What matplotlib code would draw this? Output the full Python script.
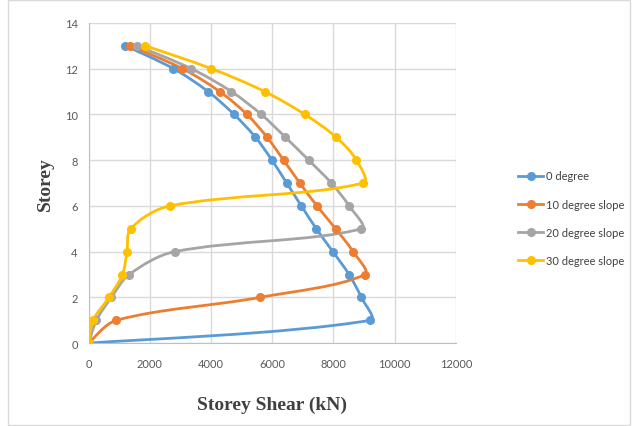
import numpy as np
import matplotlib.pyplot as plt
from matplotlib.path import Path
from matplotlib.patches import PathPatch, Rectangle
from matplotlib.lines import Line2D

# storey shear (kN) per storey
storey = [0, 1, 2, 3, 4, 5, 6, 7, 8, 9, 10, 11, 12, 13]
deg0 = [0, 9200, 8910, 8510, 7980, 7440, 6950, 6470, 5990, 5450, 4750, 3900, 2770, 1200]
deg10 = [0, 900, 5590, 9020, 8640, 8070, 7460, 6900, 6370, 5830, 5170, 4280, 3060, 1360]
deg20 = [0, 250, 740, 1320, 2810, 8910, 8510, 7930, 7190, 6430, 5640, 4660, 3350, 1580]
deg30 = [0, 140, 660, 1100, 1250, 1370, 2650, 8970, 8750, 8090, 7060, 5750, 4010, 1850]

names = ['0 degree', '10 degree slope', '20 degree slope', '30 degree slope']
colors = ['#5B9BD5', '#ED7D31', '#A5A5A5', '#FFC000']

XMAX, YMAX = 12000, 14
SX, SY = 367 / XMAX, 320 / YMAX   # rough px per unit, for the smoothing


# smooth line like excel: bezier segments, handles scaled by segment length
def smooth_path(x, y, t=1/6):
    pts = np.column_stack([np.array(x) * SX, np.array(y) * SY]).astype(float)
    n = len(pts)
    d = np.linalg.norm(np.diff(pts, axis=0), axis=1)
    verts = [pts[0]]
    codes = [Path.MOVETO]
    for i in range(n - 1):
        p0 = pts[max(i - 1, 0)]
        p1 = pts[i]
        p2 = pts[i + 1]
        p3 = pts[min(i + 2, n - 1)]
        da = d[i - 1] if i > 0 else d[i]
        db = d[i + 1] if i + 2 < n else d[i]
        c1 = p1 + (p2 - p0) * 2 * t * d[i] / (da + d[i])
        c2 = p2 - (p3 - p1) * 2 * t * d[i] / (d[i] + db)
        verts += [c1, c2, p2]
        codes += [Path.CURVE4] * 3
    verts = np.array(verts) / [SX, SY]
    return Path(verts, codes)


fig = plt.figure(figsize=(6.34, 4.27), dpi=100)
fig.patches.append(Rectangle((0.012, 0.002), 0.982, 0.996, transform=fig.transFigure,
                             fill=False, edgecolor='#D9D9D9', lw=1))
ax = fig.add_axes([0.140, 0.194, 0.579, 0.750])

handles = []
for xs, c, lab in zip([deg0, deg10, deg20, deg30], colors, names):
    ax.add_patch(PathPatch(smooth_path(xs, storey), fill=False, edgecolor=c, lw=2, zorder=3))
    ax.plot(xs, storey, 'o', color=c, ms=5.5, zorder=4)
    handles.append(Line2D([], [], color=c, lw=2, marker='o', ms=5.5))

ax.set_xlim(0, XMAX)
ax.set_ylim(0, YMAX)
ax.set_xticks(range(0, XMAX + 1, 2000))
ax.set_yticks(range(0, YMAX + 1, 2))
ax.grid(True, color='#D9D9D9', lw=1)
ax.set_axisbelow(True)
for s in ['top', 'right']:
    ax.spines[s].set_visible(False)
for s in ['left', 'bottom']:
    ax.spines[s].set_color('#BFBFBF')
ax.tick_params(length=0, labelsize=8, labelcolor='#595959')
ax.tick_params(axis='x', pad=11)
ax.tick_params(axis='y', pad=8)
for lbl in ax.get_xticklabels() + ax.get_yticklabels():
    lbl.set_fontfamily('Lato')

ax.set_xlabel('Storey Shear (kN)', fontfamily='Liberation Serif', fontweight='bold',
              fontsize=14, color='#404040', labelpad=19)
ax.set_ylabel('Storey', fontfamily='Liberation Serif', fontweight='bold',
              fontsize=14, color='#404040', labelpad=8)

fig.legend(handles, names, loc='upper left', bbox_to_anchor=(0.802, 0.622),
           frameon=False, labelspacing=1.55, handlelength=2.2,
           handletextpad=0.3, labelcolor='#404040',
           prop={'family': 'Lato', 'size': 8})

fig.savefig('out.png', dpi=100)
